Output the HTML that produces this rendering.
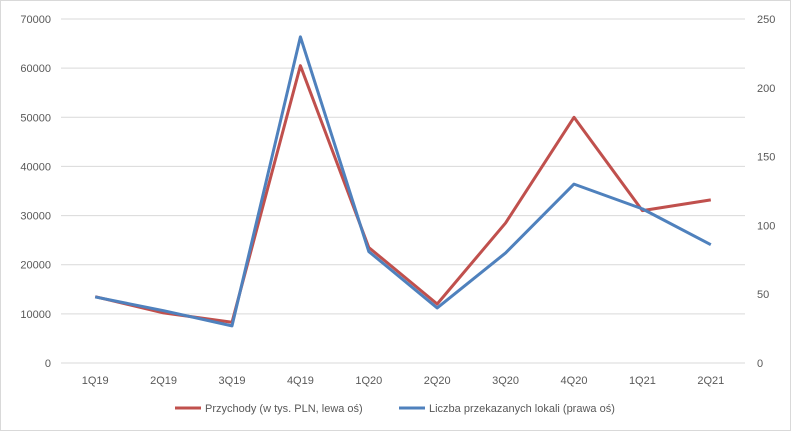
<!DOCTYPE html>
<html><head><meta charset="utf-8"><style>
body{margin:0;background:#fff;font-family:"Liberation Sans",sans-serif;}
svg text{font-family:"Liberation Sans",sans-serif;font-size:11px;fill:#595959;}
</style></head><body>
<svg id="chart" width="794" height="435" xmlns="http://www.w3.org/2000/svg">
<rect x="0.5" y="0.5" width="790" height="430" fill="#fff" stroke="#d9d9d9"/>
<g id="grid"></g><g id="axes"></g><g id="series"></g>
<g>
<line x1="175" y1="408" x2="201" y2="408" stroke="#c0504d" stroke-width="3"/>
<text x="205" y="412">Przychody (w tys. PLN, lewa oś)</text>
<line x1="399" y1="408" x2="425" y2="408" stroke="#4f81bd" stroke-width="3"/>
<text x="429" y="412">Liczba przekazanych lokali (prawa oś)</text>
</g>
</svg>
<script>
const categories=["1Q19","2Q19","3Q19","4Q19","1Q20","2Q20","3Q20","4Q20","1Q21","2Q21"];
const revenue=[13500,10200,8300,60500,23500,12000,28500,50000,31000,33200];
const units=[48,38,27,237,81,40,80,130,112,86];
const leftTicks=[0,10000,20000,30000,40000,50000,60000,70000];
const rightTicks=[0,50,100,150,200,250];
const NS="http://www.w3.org/2000/svg";
const x0=61,x1=745,yTop=19,yBot=363;
const bw=(x1-x0)/categories.length;
const xs=i=>x0+bw*(i+0.5);
const yL=v=>yBot-(v/70000)*(yBot-yTop);
const yR=v=>yBot-(v/250)*(yBot-yTop);
function mk(tag,attrs,parent){const e=document.createElementNS(NS,tag);for(const k in attrs)e.setAttribute(k,attrs[k]);document.getElementById(parent).appendChild(e);return e;}
leftTicks.forEach(v=>{
 const l=mk("line",{x1:x0,x2:x1,y1:yL(v),y2:yL(v),stroke:"#d9d9d9","stroke-width":1},"grid");
 
 
 const t=mk("text",{x:51,y:yL(v)+4,"text-anchor":"end"},"axes");t.textContent=v;
 
 
});
rightTicks.forEach(v=>{
 const t=mk("text",{x:757,y:yR(v)+4},"axes");t.textContent=v;
 
 
});
categories.forEach((c,i)=>{
 const t=mk("text",{x:xs(i),y:384,"text-anchor":"middle"},"axes");t.textContent=c;
 
 
});
const r=mk("polyline",{points:revenue.map((v,i)=>xs(i)+","+yL(v)).join(" "),fill:"none",stroke:"#c0504d","stroke-width":3,"stroke-linejoin":"round"},"series");


const b=mk("polyline",{points:units.map((v,i)=>xs(i)+","+yR(v)).join(" "),fill:"none",stroke:"#4f81bd","stroke-width":3,"stroke-linejoin":"round"},"series");


</script>
</body></html>
